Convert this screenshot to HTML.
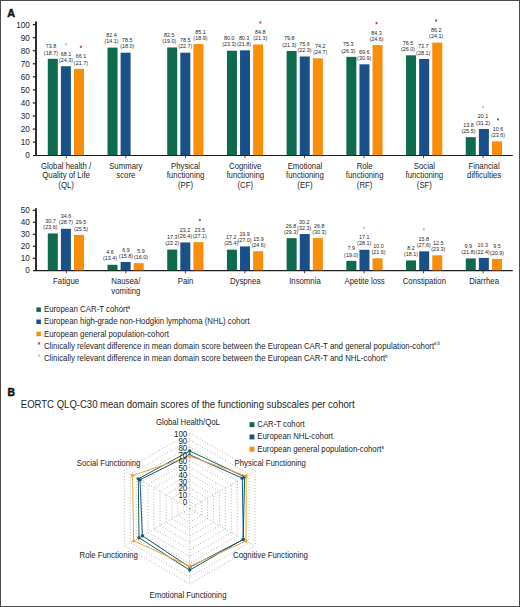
<!DOCTYPE html>
<html><head><meta charset="utf-8"><style>
html,body{margin:0;padding:0;background:#fff;}
body{width:520px;height:607px;overflow:hidden;}
svg{display:block;font-family:"Liberation Sans", sans-serif;}

</style></head><body>
<svg width="520" height="607" viewBox="0 0 520 607">
<rect x="0" y="0" width="520" height="607" fill="#fff"/>
<text x="7.20" y="17.00" font-size="10.8" text-anchor="start" fill="#111" font-weight="bold" stroke="#111" stroke-width="0.45">A</text>
<line x1="36.00" y1="21.50" x2="36.00" y2="155.70" stroke="#2e2e2e" stroke-width="2.0" />
<line x1="33.00" y1="155.50" x2="512.80" y2="155.50" stroke="#1c1c1c" stroke-width="1.05" />
<text x="29.90" y="158.15" font-size="8.2" text-anchor="end" fill="#1e1e1e" font-weight="normal" >0</text>
<line x1="32.80" y1="142.14" x2="36.00" y2="142.14" stroke="#222" stroke-width="1.2" />
<text x="29.90" y="145.09" font-size="8.2" text-anchor="end" fill="#1e1e1e" font-weight="normal" >10</text>
<line x1="32.80" y1="129.08" x2="36.00" y2="129.08" stroke="#222" stroke-width="1.2" />
<text x="29.90" y="132.03" font-size="8.2" text-anchor="end" fill="#1e1e1e" font-weight="normal" >20</text>
<line x1="32.80" y1="116.02" x2="36.00" y2="116.02" stroke="#222" stroke-width="1.2" />
<text x="29.90" y="118.97" font-size="8.2" text-anchor="end" fill="#1e1e1e" font-weight="normal" >30</text>
<line x1="32.80" y1="102.96" x2="36.00" y2="102.96" stroke="#222" stroke-width="1.2" />
<text x="29.90" y="105.91" font-size="8.2" text-anchor="end" fill="#1e1e1e" font-weight="normal" >40</text>
<line x1="32.80" y1="89.90" x2="36.00" y2="89.90" stroke="#222" stroke-width="1.2" />
<text x="29.90" y="92.85" font-size="8.2" text-anchor="end" fill="#1e1e1e" font-weight="normal" >50</text>
<line x1="32.80" y1="76.84" x2="36.00" y2="76.84" stroke="#222" stroke-width="1.2" />
<text x="29.90" y="79.79" font-size="8.2" text-anchor="end" fill="#1e1e1e" font-weight="normal" >60</text>
<line x1="32.80" y1="63.78" x2="36.00" y2="63.78" stroke="#222" stroke-width="1.2" />
<text x="29.90" y="66.73" font-size="8.2" text-anchor="end" fill="#1e1e1e" font-weight="normal" >70</text>
<line x1="32.80" y1="50.72" x2="36.00" y2="50.72" stroke="#222" stroke-width="1.2" />
<text x="29.90" y="53.67" font-size="8.2" text-anchor="end" fill="#1e1e1e" font-weight="normal" >80</text>
<line x1="32.80" y1="37.66" x2="36.00" y2="37.66" stroke="#222" stroke-width="1.2" />
<text x="29.90" y="40.61" font-size="8.2" text-anchor="end" fill="#1e1e1e" font-weight="normal" >90</text>
<line x1="32.80" y1="24.60" x2="36.00" y2="24.60" stroke="#222" stroke-width="1.2" />
<text x="29.90" y="27.55" font-size="8.2" text-anchor="end" fill="#1e1e1e" font-weight="normal" >100</text>
<line x1="66.30" y1="155.70" x2="66.30" y2="158.20" stroke="#333" stroke-width="0.9" />
<line x1="125.84" y1="155.70" x2="125.84" y2="158.20" stroke="#333" stroke-width="0.9" />
<line x1="185.38" y1="155.70" x2="185.38" y2="158.20" stroke="#333" stroke-width="0.9" />
<line x1="244.92" y1="155.70" x2="244.92" y2="158.20" stroke="#333" stroke-width="0.9" />
<line x1="304.46" y1="155.70" x2="304.46" y2="158.20" stroke="#333" stroke-width="0.9" />
<line x1="364.00" y1="155.70" x2="364.00" y2="158.20" stroke="#333" stroke-width="0.9" />
<line x1="423.54" y1="155.70" x2="423.54" y2="158.20" stroke="#333" stroke-width="0.9" />
<line x1="483.08" y1="155.70" x2="483.08" y2="158.20" stroke="#333" stroke-width="0.9" />
<rect x="47.80" y="58.82" width="10.00" height="96.38" fill="#0d6a4e"/>
<text x="50.90" y="48.32" font-size="5.4" text-anchor="middle" fill="#262626" font-weight="normal" >73.8</text>
<text x="50.90" y="54.52" font-size="5.4" text-anchor="middle" fill="#262626" font-weight="normal" >(18.7)</text>
<rect x="60.90" y="66.26" width="10.00" height="88.94" fill="#1a5088"/>
<text x="66.10" y="55.76" font-size="5.4" text-anchor="middle" fill="#262626" font-weight="normal" >68.1</text>
<text x="66.10" y="61.96" font-size="5.4" text-anchor="middle" fill="#262626" font-weight="normal" >(24.3)</text>
<path d="M66.10,43.06 L66.10,45.46 M65.06,43.66 L67.14,44.86 M67.14,43.66 L65.06,44.86 " stroke="#c2c2c2" stroke-width="0.9" fill="none"/>
<rect x="74.00" y="68.87" width="10.00" height="86.33" fill="#fa8e08"/>
<text x="80.90" y="58.37" font-size="5.4" text-anchor="middle" fill="#262626" font-weight="normal" >66.1</text>
<text x="80.90" y="64.57" font-size="5.4" text-anchor="middle" fill="#262626" font-weight="normal" >(21.7)</text>
<path d="M80.90,45.67 L80.90,48.07 M79.86,46.27 L81.94,47.47 M81.94,46.27 L79.86,47.47 " stroke="#b8445f" stroke-width="0.9" fill="none"/>
<rect x="107.51" y="47.59" width="10.00" height="107.61" fill="#0d6a4e"/>
<text x="111.51" y="37.09" font-size="5.4" text-anchor="middle" fill="#262626" font-weight="normal" >82.4</text>
<text x="111.51" y="43.29" font-size="5.4" text-anchor="middle" fill="#262626" font-weight="normal" >(14.1)</text>
<rect x="120.61" y="52.68" width="10.00" height="102.52" fill="#1a5088"/>
<text x="127.31" y="42.18" font-size="5.4" text-anchor="middle" fill="#262626" font-weight="normal" >78.5</text>
<text x="127.31" y="48.38" font-size="5.4" text-anchor="middle" fill="#262626" font-weight="normal" >(18.0)</text>
<rect x="167.22" y="47.45" width="10.00" height="107.75" fill="#0d6a4e"/>
<text x="169.22" y="36.95" font-size="5.4" text-anchor="middle" fill="#262626" font-weight="normal" >82.5</text>
<text x="169.22" y="43.15" font-size="5.4" text-anchor="middle" fill="#262626" font-weight="normal" >(19.0)</text>
<rect x="180.32" y="52.68" width="10.00" height="102.52" fill="#1a5088"/>
<text x="185.32" y="42.18" font-size="5.4" text-anchor="middle" fill="#262626" font-weight="normal" >78.5</text>
<text x="185.32" y="48.38" font-size="5.4" text-anchor="middle" fill="#262626" font-weight="normal" >(22.7)</text>
<rect x="193.42" y="44.06" width="10.00" height="111.14" fill="#fa8e08"/>
<text x="200.42" y="33.56" font-size="5.4" text-anchor="middle" fill="#262626" font-weight="normal" >85.1</text>
<text x="200.42" y="39.76" font-size="5.4" text-anchor="middle" fill="#262626" font-weight="normal" >(18.9)</text>
<rect x="226.93" y="50.72" width="10.00" height="104.48" fill="#0d6a4e"/>
<text x="229.23" y="40.22" font-size="5.4" text-anchor="middle" fill="#262626" font-weight="normal" >80.0</text>
<text x="229.23" y="46.42" font-size="5.4" text-anchor="middle" fill="#262626" font-weight="normal" >(23.3)</text>
<rect x="240.03" y="50.33" width="10.00" height="104.87" fill="#1a5088"/>
<text x="244.13" y="39.83" font-size="5.4" text-anchor="middle" fill="#262626" font-weight="normal" >80.3</text>
<text x="244.13" y="46.03" font-size="5.4" text-anchor="middle" fill="#262626" font-weight="normal" >(21.8)</text>
<rect x="253.13" y="44.45" width="10.00" height="110.75" fill="#fa8e08"/>
<text x="260.33" y="33.95" font-size="5.4" text-anchor="middle" fill="#262626" font-weight="normal" >84.8</text>
<text x="260.33" y="40.15" font-size="5.4" text-anchor="middle" fill="#262626" font-weight="normal" >(21.3)</text>
<path d="M260.33,21.25 L260.33,23.65 M259.29,21.85 L261.37,23.05 M261.37,21.85 L259.29,23.05 " stroke="#b8445f" stroke-width="0.9" fill="none"/>
<rect x="286.64" y="50.98" width="10.00" height="104.22" fill="#0d6a4e"/>
<text x="289.34" y="40.48" font-size="5.4" text-anchor="middle" fill="#262626" font-weight="normal" >79.8</text>
<text x="289.34" y="46.68" font-size="5.4" text-anchor="middle" fill="#262626" font-weight="normal" >(21.3)</text>
<rect x="299.74" y="56.47" width="10.00" height="98.73" fill="#1a5088"/>
<text x="304.54" y="45.97" font-size="5.4" text-anchor="middle" fill="#262626" font-weight="normal" >75.6</text>
<text x="304.54" y="52.17" font-size="5.4" text-anchor="middle" fill="#262626" font-weight="normal" >(22.3)</text>
<rect x="312.84" y="58.29" width="10.00" height="96.91" fill="#fa8e08"/>
<text x="320.24" y="47.79" font-size="5.4" text-anchor="middle" fill="#262626" font-weight="normal" >74.2</text>
<text x="320.24" y="53.99" font-size="5.4" text-anchor="middle" fill="#262626" font-weight="normal" >(24.7)</text>
<rect x="346.35" y="56.86" width="10.00" height="98.34" fill="#0d6a4e"/>
<text x="348.35" y="46.36" font-size="5.4" text-anchor="middle" fill="#262626" font-weight="normal" >75.3</text>
<text x="348.35" y="52.56" font-size="5.4" text-anchor="middle" fill="#262626" font-weight="normal" >(26.3)</text>
<rect x="359.45" y="64.30" width="10.00" height="90.90" fill="#1a5088"/>
<text x="364.15" y="53.80" font-size="5.4" text-anchor="middle" fill="#262626" font-weight="normal" >69.6</text>
<text x="364.15" y="60.00" font-size="5.4" text-anchor="middle" fill="#262626" font-weight="normal" >(30.9)</text>
<rect x="372.55" y="45.10" width="10.00" height="110.10" fill="#fa8e08"/>
<text x="376.55" y="34.60" font-size="5.4" text-anchor="middle" fill="#262626" font-weight="normal" >84.3</text>
<text x="376.55" y="40.80" font-size="5.4" text-anchor="middle" fill="#262626" font-weight="normal" >(24.6)</text>
<path d="M376.55,21.90 L376.55,24.30 M375.51,22.50 L377.59,23.70 M377.59,22.50 L375.51,23.70 " stroke="#b8445f" stroke-width="0.9" fill="none"/>
<rect x="406.06" y="55.29" width="10.00" height="99.91" fill="#0d6a4e"/>
<text x="407.96" y="44.79" font-size="5.4" text-anchor="middle" fill="#262626" font-weight="normal" >76.5</text>
<text x="407.96" y="50.99" font-size="5.4" text-anchor="middle" fill="#262626" font-weight="normal" >(26.0)</text>
<rect x="419.16" y="58.95" width="10.00" height="96.25" fill="#1a5088"/>
<text x="423.16" y="48.45" font-size="5.4" text-anchor="middle" fill="#262626" font-weight="normal" >73.7</text>
<text x="423.16" y="54.65" font-size="5.4" text-anchor="middle" fill="#262626" font-weight="normal" >(28.1)</text>
<rect x="432.26" y="42.62" width="10.00" height="112.58" fill="#fa8e08"/>
<text x="436.16" y="32.12" font-size="5.4" text-anchor="middle" fill="#262626" font-weight="normal" >86.2</text>
<text x="436.16" y="38.32" font-size="5.4" text-anchor="middle" fill="#262626" font-weight="normal" >(24.1)</text>
<path d="M436.16,19.42 L436.16,21.82 M435.12,20.02 L437.20,21.22 M437.20,20.02 L435.12,21.22 " stroke="#b8445f" stroke-width="0.9" fill="none"/>
<rect x="465.77" y="137.18" width="10.00" height="18.02" fill="#0d6a4e"/>
<text x="468.57" y="126.68" font-size="5.4" text-anchor="middle" fill="#262626" font-weight="normal" >13.8</text>
<text x="468.57" y="132.88" font-size="5.4" text-anchor="middle" fill="#262626" font-weight="normal" >(25.5)</text>
<rect x="478.87" y="128.95" width="10.00" height="26.25" fill="#1a5088"/>
<text x="483.07" y="118.45" font-size="5.4" text-anchor="middle" fill="#262626" font-weight="normal" >20.1</text>
<text x="483.07" y="124.65" font-size="5.4" text-anchor="middle" fill="#262626" font-weight="normal" >(31.2)</text>
<path d="M483.07,105.75 L483.07,108.15 M482.03,106.35 L484.11,107.55 M484.11,106.35 L482.03,107.55 " stroke="#c2c2c2" stroke-width="0.9" fill="none"/>
<rect x="491.97" y="141.36" width="10.00" height="13.84" fill="#fa8e08"/>
<text x="498.07" y="130.86" font-size="5.4" text-anchor="middle" fill="#262626" font-weight="normal" >10.6</text>
<text x="498.07" y="137.06" font-size="5.4" text-anchor="middle" fill="#262626" font-weight="normal" >(23.6)</text>
<path d="M498.07,118.16 L498.07,120.56 M497.03,118.76 L499.11,119.96 M499.11,118.76 L497.03,119.96 " stroke="#b8445f" stroke-width="0.9" fill="none"/>
<text transform="translate(66.10 168.60) scale(1 1.06)" font-size="7.8" text-anchor="middle" fill="#1e1e1e" font-weight="normal" >Global health /</text>
<text transform="translate(66.10 178.45) scale(1 1.06)" font-size="7.8" text-anchor="middle" fill="#1e1e1e" font-weight="normal" >Quality of Life</text>
<text transform="translate(66.10 188.30) scale(1 1.06)" font-size="7.8" text-anchor="middle" fill="#1e1e1e" font-weight="normal" >(QL)</text>
<text transform="translate(125.81 168.60) scale(1 1.06)" font-size="7.8" text-anchor="middle" fill="#1e1e1e" font-weight="normal" >Summary</text>
<text transform="translate(125.81 178.45) scale(1 1.06)" font-size="7.8" text-anchor="middle" fill="#1e1e1e" font-weight="normal" >score</text>
<text transform="translate(185.52 168.60) scale(1 1.06)" font-size="7.8" text-anchor="middle" fill="#1e1e1e" font-weight="normal" >Physical</text>
<text transform="translate(185.52 178.45) scale(1 1.06)" font-size="7.8" text-anchor="middle" fill="#1e1e1e" font-weight="normal" >functioning</text>
<text transform="translate(185.52 188.30) scale(1 1.06)" font-size="7.8" text-anchor="middle" fill="#1e1e1e" font-weight="normal" >(PF)</text>
<text transform="translate(245.23 168.60) scale(1 1.06)" font-size="7.8" text-anchor="middle" fill="#1e1e1e" font-weight="normal" >Cognitive</text>
<text transform="translate(245.23 178.45) scale(1 1.06)" font-size="7.8" text-anchor="middle" fill="#1e1e1e" font-weight="normal" >functioning</text>
<text transform="translate(245.23 188.30) scale(1 1.06)" font-size="7.8" text-anchor="middle" fill="#1e1e1e" font-weight="normal" >(CF)</text>
<text transform="translate(304.94 168.60) scale(1 1.06)" font-size="7.8" text-anchor="middle" fill="#1e1e1e" font-weight="normal" >Emotional</text>
<text transform="translate(304.94 178.45) scale(1 1.06)" font-size="7.8" text-anchor="middle" fill="#1e1e1e" font-weight="normal" >functioning</text>
<text transform="translate(304.94 188.30) scale(1 1.06)" font-size="7.8" text-anchor="middle" fill="#1e1e1e" font-weight="normal" >(EF)</text>
<text transform="translate(364.65 168.60) scale(1 1.06)" font-size="7.8" text-anchor="middle" fill="#1e1e1e" font-weight="normal" >Role</text>
<text transform="translate(364.65 178.45) scale(1 1.06)" font-size="7.8" text-anchor="middle" fill="#1e1e1e" font-weight="normal" >functioning</text>
<text transform="translate(364.65 188.30) scale(1 1.06)" font-size="7.8" text-anchor="middle" fill="#1e1e1e" font-weight="normal" >(RF)</text>
<text transform="translate(424.36 168.60) scale(1 1.06)" font-size="7.8" text-anchor="middle" fill="#1e1e1e" font-weight="normal" >Social</text>
<text transform="translate(424.36 178.45) scale(1 1.06)" font-size="7.8" text-anchor="middle" fill="#1e1e1e" font-weight="normal" >functioning</text>
<text transform="translate(424.36 188.30) scale(1 1.06)" font-size="7.8" text-anchor="middle" fill="#1e1e1e" font-weight="normal" >(SF)</text>
<text transform="translate(484.07 168.60) scale(1 1.06)" font-size="7.8" text-anchor="middle" fill="#1e1e1e" font-weight="normal" >Financial</text>
<text transform="translate(484.07 178.45) scale(1 1.06)" font-size="7.8" text-anchor="middle" fill="#1e1e1e" font-weight="normal" >difficulties</text>
<line x1="36.00" y1="208.20" x2="36.00" y2="270.80" stroke="#2e2e2e" stroke-width="2.0" />
<line x1="33.00" y1="270.60" x2="512.80" y2="270.60" stroke="#1c1c1c" stroke-width="1.05" />
<text x="29.90" y="273.25" font-size="8.2" text-anchor="end" fill="#1e1e1e" font-weight="normal" >0</text>
<line x1="32.80" y1="258.30" x2="36.00" y2="258.30" stroke="#222" stroke-width="1.2" />
<text x="29.90" y="261.25" font-size="8.2" text-anchor="end" fill="#1e1e1e" font-weight="normal" >10</text>
<line x1="32.80" y1="246.30" x2="36.00" y2="246.30" stroke="#222" stroke-width="1.2" />
<text x="29.90" y="249.25" font-size="8.2" text-anchor="end" fill="#1e1e1e" font-weight="normal" >20</text>
<line x1="32.80" y1="234.30" x2="36.00" y2="234.30" stroke="#222" stroke-width="1.2" />
<text x="29.90" y="237.25" font-size="8.2" text-anchor="end" fill="#1e1e1e" font-weight="normal" >30</text>
<line x1="32.80" y1="222.30" x2="36.00" y2="222.30" stroke="#222" stroke-width="1.2" />
<text x="29.90" y="225.25" font-size="8.2" text-anchor="end" fill="#1e1e1e" font-weight="normal" >40</text>
<line x1="32.80" y1="210.30" x2="36.00" y2="210.30" stroke="#222" stroke-width="1.2" />
<text x="29.90" y="213.25" font-size="8.2" text-anchor="end" fill="#1e1e1e" font-weight="normal" >50</text>
<line x1="66.30" y1="270.80" x2="66.30" y2="273.30" stroke="#333" stroke-width="0.9" />
<line x1="125.84" y1="270.80" x2="125.84" y2="273.30" stroke="#333" stroke-width="0.9" />
<line x1="185.38" y1="270.80" x2="185.38" y2="273.30" stroke="#333" stroke-width="0.9" />
<line x1="244.92" y1="270.80" x2="244.92" y2="273.30" stroke="#333" stroke-width="0.9" />
<line x1="304.46" y1="270.80" x2="304.46" y2="273.30" stroke="#333" stroke-width="0.9" />
<line x1="364.00" y1="270.80" x2="364.00" y2="273.30" stroke="#333" stroke-width="0.9" />
<line x1="423.54" y1="270.80" x2="423.54" y2="273.30" stroke="#333" stroke-width="0.9" />
<line x1="483.08" y1="270.80" x2="483.08" y2="273.30" stroke="#333" stroke-width="0.9" />
<rect x="47.80" y="233.46" width="10.00" height="36.84" fill="#0d6a4e"/>
<text x="50.40" y="222.96" font-size="5.4" text-anchor="middle" fill="#262626" font-weight="normal" >30.7</text>
<text x="50.40" y="229.16" font-size="5.4" text-anchor="middle" fill="#262626" font-weight="normal" >(23.6)</text>
<rect x="60.90" y="228.78" width="10.00" height="41.52" fill="#1a5088"/>
<text x="65.90" y="218.28" font-size="5.4" text-anchor="middle" fill="#262626" font-weight="normal" >34.6</text>
<text x="65.90" y="224.48" font-size="5.4" text-anchor="middle" fill="#262626" font-weight="normal" >(28.7)</text>
<rect x="74.00" y="234.90" width="10.00" height="35.40" fill="#fa8e08"/>
<text x="81.10" y="224.40" font-size="5.4" text-anchor="middle" fill="#262626" font-weight="normal" >29.5</text>
<text x="81.10" y="230.60" font-size="5.4" text-anchor="middle" fill="#262626" font-weight="normal" >(25.5)</text>
<rect x="107.51" y="264.78" width="10.00" height="5.52" fill="#0d6a4e"/>
<text x="110.11" y="254.28" font-size="5.4" text-anchor="middle" fill="#262626" font-weight="normal" >4.6</text>
<text x="110.11" y="260.48" font-size="5.4" text-anchor="middle" fill="#262626" font-weight="normal" >(13.4)</text>
<rect x="120.61" y="262.02" width="10.00" height="8.28" fill="#1a5088"/>
<text x="125.91" y="251.52" font-size="5.4" text-anchor="middle" fill="#262626" font-weight="normal" >6.9</text>
<text x="125.91" y="257.72" font-size="5.4" text-anchor="middle" fill="#262626" font-weight="normal" >(15.8)</text>
<rect x="133.71" y="263.22" width="10.00" height="7.08" fill="#fa8e08"/>
<text x="141.11" y="252.72" font-size="5.4" text-anchor="middle" fill="#262626" font-weight="normal" >5.9</text>
<text x="141.11" y="258.92" font-size="5.4" text-anchor="middle" fill="#262626" font-weight="normal" >(16.0)</text>
<rect x="167.22" y="249.54" width="10.00" height="20.76" fill="#0d6a4e"/>
<text x="172.22" y="239.04" font-size="5.4" text-anchor="middle" fill="#262626" font-weight="normal" >17.3</text>
<text x="172.22" y="245.24" font-size="5.4" text-anchor="middle" fill="#262626" font-weight="normal" >(22.2)</text>
<rect x="180.32" y="242.46" width="10.00" height="27.84" fill="#1a5088"/>
<text x="184.92" y="231.96" font-size="5.4" text-anchor="middle" fill="#262626" font-weight="normal" >23.2</text>
<text x="184.92" y="238.16" font-size="5.4" text-anchor="middle" fill="#262626" font-weight="normal" >(26.4)</text>
<rect x="193.42" y="242.10" width="10.00" height="28.20" fill="#fa8e08"/>
<text x="199.82" y="231.60" font-size="5.4" text-anchor="middle" fill="#262626" font-weight="normal" >23.5</text>
<text x="199.82" y="237.80" font-size="5.4" text-anchor="middle" fill="#262626" font-weight="normal" >(27.1)</text>
<path d="M199.82,218.90 L199.82,221.30 M198.78,219.50 L200.86,220.70 M200.86,219.50 L198.78,220.70 " stroke="#b8445f" stroke-width="0.9" fill="none"/>
<rect x="226.93" y="249.66" width="10.00" height="20.64" fill="#0d6a4e"/>
<text x="231.33" y="239.16" font-size="5.4" text-anchor="middle" fill="#262626" font-weight="normal" >17.2</text>
<text x="231.33" y="245.36" font-size="5.4" text-anchor="middle" fill="#262626" font-weight="normal" >(25.4)</text>
<rect x="240.03" y="246.42" width="10.00" height="23.88" fill="#1a5088"/>
<text x="244.63" y="235.92" font-size="5.4" text-anchor="middle" fill="#262626" font-weight="normal" >19.9</text>
<text x="244.63" y="242.12" font-size="5.4" text-anchor="middle" fill="#262626" font-weight="normal" >(27.0)</text>
<rect x="253.13" y="251.22" width="10.00" height="19.08" fill="#fa8e08"/>
<text x="258.53" y="240.72" font-size="5.4" text-anchor="middle" fill="#262626" font-weight="normal" >15.9</text>
<text x="258.53" y="246.92" font-size="5.4" text-anchor="middle" fill="#262626" font-weight="normal" >(24.6)</text>
<rect x="286.64" y="238.14" width="10.00" height="32.16" fill="#0d6a4e"/>
<text x="291.04" y="227.64" font-size="5.4" text-anchor="middle" fill="#262626" font-weight="normal" >26.8</text>
<text x="291.04" y="233.84" font-size="5.4" text-anchor="middle" fill="#262626" font-weight="normal" >(29.3)</text>
<rect x="299.74" y="234.06" width="10.00" height="36.24" fill="#1a5088"/>
<text x="304.34" y="223.56" font-size="5.4" text-anchor="middle" fill="#262626" font-weight="normal" >30.2</text>
<text x="304.34" y="229.76" font-size="5.4" text-anchor="middle" fill="#262626" font-weight="normal" >(32.3)</text>
<rect x="312.84" y="238.14" width="10.00" height="32.16" fill="#fa8e08"/>
<text x="319.34" y="227.64" font-size="5.4" text-anchor="middle" fill="#262626" font-weight="normal" >26.8</text>
<text x="319.34" y="233.84" font-size="5.4" text-anchor="middle" fill="#262626" font-weight="normal" >(30.3)</text>
<rect x="346.35" y="260.82" width="10.00" height="9.48" fill="#0d6a4e"/>
<text x="351.15" y="250.32" font-size="5.4" text-anchor="middle" fill="#262626" font-weight="normal" >7.9</text>
<text x="351.15" y="256.52" font-size="5.4" text-anchor="middle" fill="#262626" font-weight="normal" >(19.0)</text>
<rect x="359.45" y="249.78" width="10.00" height="20.52" fill="#1a5088"/>
<text x="364.15" y="239.28" font-size="5.4" text-anchor="middle" fill="#262626" font-weight="normal" >17.1</text>
<text x="364.15" y="245.48" font-size="5.4" text-anchor="middle" fill="#262626" font-weight="normal" >(28.1)</text>
<path d="M364.15,226.58 L364.15,228.98 M363.11,227.18 L365.19,228.38 M365.19,227.18 L363.11,228.38 " stroke="#c2c2c2" stroke-width="0.9" fill="none"/>
<rect x="372.55" y="258.30" width="10.00" height="12.00" fill="#fa8e08"/>
<text x="378.45" y="247.80" font-size="5.4" text-anchor="middle" fill="#262626" font-weight="normal" >10.0</text>
<text x="378.45" y="254.00" font-size="5.4" text-anchor="middle" fill="#262626" font-weight="normal" >(21.6)</text>
<rect x="406.06" y="260.46" width="10.00" height="9.84" fill="#0d6a4e"/>
<text x="411.06" y="249.96" font-size="5.4" text-anchor="middle" fill="#262626" font-weight="normal" >8.2</text>
<text x="411.06" y="256.16" font-size="5.4" text-anchor="middle" fill="#262626" font-weight="normal" >(18.1)</text>
<rect x="419.16" y="251.34" width="10.00" height="18.96" fill="#1a5088"/>
<text x="423.71" y="240.84" font-size="5.4" text-anchor="middle" fill="#262626" font-weight="normal" >15.8</text>
<text x="423.71" y="247.04" font-size="5.4" text-anchor="middle" fill="#262626" font-weight="normal" >(27.6)</text>
<path d="M423.71,228.14 L423.71,230.54 M422.67,228.74 L424.75,229.94 M424.75,228.74 L422.67,229.94 " stroke="#c2c2c2" stroke-width="0.9" fill="none"/>
<rect x="432.26" y="255.30" width="10.00" height="15.00" fill="#fa8e08"/>
<text x="438.36" y="244.80" font-size="5.4" text-anchor="middle" fill="#262626" font-weight="normal" >12.5</text>
<text x="438.36" y="251.00" font-size="5.4" text-anchor="middle" fill="#262626" font-weight="normal" >(23.3)</text>
<rect x="465.77" y="258.42" width="10.00" height="11.88" fill="#0d6a4e"/>
<text x="468.37" y="247.92" font-size="5.4" text-anchor="middle" fill="#262626" font-weight="normal" >9.9</text>
<text x="468.37" y="254.12" font-size="5.4" text-anchor="middle" fill="#262626" font-weight="normal" >(21.8)</text>
<rect x="478.87" y="257.94" width="10.00" height="12.36" fill="#1a5088"/>
<text x="482.67" y="247.44" font-size="5.4" text-anchor="middle" fill="#262626" font-weight="normal" >10.3</text>
<text x="482.67" y="253.64" font-size="5.4" text-anchor="middle" fill="#262626" font-weight="normal" >(22.4)</text>
<rect x="491.97" y="258.90" width="10.00" height="11.40" fill="#fa8e08"/>
<text x="496.97" y="248.40" font-size="5.4" text-anchor="middle" fill="#262626" font-weight="normal" >9.5</text>
<text x="496.97" y="254.60" font-size="5.4" text-anchor="middle" fill="#262626" font-weight="normal" >(20.9)</text>
<text transform="translate(66.10 283.70) scale(1 1.06)" font-size="7.8" text-anchor="middle" fill="#1e1e1e" font-weight="normal" >Fatigue</text>
<text transform="translate(125.81 283.70) scale(1 1.06)" font-size="7.8" text-anchor="middle" fill="#1e1e1e" font-weight="normal" >Nausea/</text>
<text transform="translate(125.81 293.55) scale(1 1.06)" font-size="7.8" text-anchor="middle" fill="#1e1e1e" font-weight="normal" >vomiting</text>
<text transform="translate(185.52 283.70) scale(1 1.06)" font-size="7.8" text-anchor="middle" fill="#1e1e1e" font-weight="normal" >Pain</text>
<text transform="translate(245.23 283.70) scale(1 1.06)" font-size="7.8" text-anchor="middle" fill="#1e1e1e" font-weight="normal" >Dyspnea</text>
<text transform="translate(304.94 283.70) scale(1 1.06)" font-size="7.8" text-anchor="middle" fill="#1e1e1e" font-weight="normal" >Insomnia</text>
<text transform="translate(364.65 283.70) scale(1 1.06)" font-size="7.8" text-anchor="middle" fill="#1e1e1e" font-weight="normal" >Apetite loss</text>
<text transform="translate(424.36 283.70) scale(1 1.06)" font-size="7.8" text-anchor="middle" fill="#1e1e1e" font-weight="normal" >Constipation</text>
<text transform="translate(484.07 283.70) scale(1 1.06)" font-size="7.8" text-anchor="middle" fill="#1e1e1e" font-weight="normal" >Diarrhea</text>
<rect x="36.40" y="307.40" width="4.50" height="4.50" fill="#0d6a4e"/>
<text transform="translate(43.90 312.20) scale(1 1.06)" font-size="7.85" text-anchor="start" fill="#1e1e1e" font-weight="normal" >European CAR-T cohort<tspan font-size="4.2" dy="-3">a</tspan></text>
<rect x="36.40" y="319.55" width="4.50" height="4.50" fill="#1a5088"/>
<text transform="translate(43.90 324.35) scale(1 1.06)" font-size="7.85" text-anchor="start" fill="#1e1e1e" font-weight="normal" >European high-grade non-Hodgkin lymphoma (NHL) cohort</text>
<rect x="36.40" y="331.70" width="4.50" height="4.50" fill="#fa8e08"/>
<text transform="translate(43.90 336.50) scale(1 1.06)" font-size="7.85" text-anchor="start" fill="#1e1e1e" font-weight="normal" >European general population-cohort</text>
<path d="M39.10,342.00 L39.10,344.80 M37.89,342.70 L40.31,344.10 M40.31,342.70 L37.89,344.10 " stroke="#b8445f" stroke-width="0.9" fill="none"/>
<text transform="translate(43.90 348.65) scale(1 1.06)" font-size="7.85" text-anchor="start" fill="#1e1e1e" font-weight="normal" >Clinically relevant difference in mean domain score between the European CAR-T and general population-cohort<tspan font-size="4.2" dy="-3">a,b</tspan></text>
<path d="M39.10,354.20 L39.10,357.00 M37.89,354.90 L40.31,356.30 M40.31,354.90 L37.89,356.30 " stroke="#c2c2c2" stroke-width="0.9" fill="none"/>
<text transform="translate(43.90 360.80) scale(1 1.06)" font-size="7.85" text-anchor="start" fill="#1e1e1e" font-weight="normal" >Clinically relevant difference in mean domain score between the European CAR-T and NHL-cohort<tspan font-size="4.2" dy="-3">b</tspan></text>
<text x="7.60" y="395.80" font-size="10.3" text-anchor="start" fill="#111" font-weight="bold" stroke="#111" stroke-width="0.45">B</text>
<text transform="translate(20.80 407.70) scale(1 1.06)" font-size="9.55" text-anchor="start" fill="#1e1e1e" font-weight="normal" >EORTC QLQ-C30 mean domain scores of the functioning subscales per cohort</text>
<path d="M189.70,501.64 L195.64,505.07 L195.64,511.93 L189.70,515.36 L183.76,511.93 L183.76,505.07 Z" fill="none" stroke="#8f8f8f" stroke-width="0.8" stroke-dasharray="0.8 2.1"/>
<path d="M189.70,494.78 L201.58,501.64 L201.58,515.36 L189.70,522.22 L177.82,515.36 L177.82,501.64 Z" fill="none" stroke="#8f8f8f" stroke-width="0.8" stroke-dasharray="0.8 2.1"/>
<path d="M189.70,487.92 L207.52,498.21 L207.52,518.79 L189.70,529.08 L171.88,518.79 L171.88,498.21 Z" fill="none" stroke="#8f8f8f" stroke-width="0.8" stroke-dasharray="0.8 2.1"/>
<path d="M189.70,481.06 L213.46,494.78 L213.46,522.22 L189.70,535.94 L165.94,522.22 L165.94,494.78 Z" fill="none" stroke="#8f8f8f" stroke-width="0.8" stroke-dasharray="0.8 2.1"/>
<path d="M189.70,474.20 L219.40,491.35 L219.40,525.65 L189.70,542.80 L160.00,525.65 L160.00,491.35 Z" fill="none" stroke="#8f8f8f" stroke-width="0.8" stroke-dasharray="0.8 2.1"/>
<path d="M189.70,467.34 L225.35,487.92 L225.35,529.08 L189.70,549.66 L154.05,529.08 L154.05,487.92 Z" fill="none" stroke="#8f8f8f" stroke-width="0.8" stroke-dasharray="0.8 2.1"/>
<path d="M189.70,460.48 L231.29,484.49 L231.29,532.51 L189.70,556.52 L148.11,532.51 L148.11,484.49 Z" fill="none" stroke="#8f8f8f" stroke-width="0.8" stroke-dasharray="0.8 2.1"/>
<path d="M189.70,453.62 L237.23,481.06 L237.23,535.94 L189.70,563.38 L142.17,535.94 L142.17,481.06 Z" fill="none" stroke="#8f8f8f" stroke-width="0.8" stroke-dasharray="0.8 2.1"/>
<path d="M189.70,446.76 L243.17,477.63 L243.17,539.37 L189.70,570.24 L136.23,539.37 L136.23,477.63 Z" fill="none" stroke="#8f8f8f" stroke-width="0.8" stroke-dasharray="0.8 2.1"/>
<path d="M189.70,439.90 L249.11,474.20 L249.11,542.80 L189.70,577.10 L130.29,542.80 L130.29,474.20 Z" fill="none" stroke="#8f8f8f" stroke-width="0.8" stroke-dasharray="0.8 2.1"/>
<path d="M189.70,433.04 L255.05,470.77 L255.05,546.23 L189.70,583.96 L124.35,546.23 L124.35,470.77 Z" fill="none" stroke="#8f8f8f" stroke-width="0.8" stroke-dasharray="0.8 2.1"/>
<line x1="189.70" y1="508.50" x2="189.70" y2="433.04" stroke="#8f8f8f" stroke-width="0.8" stroke-dasharray="0.8 2.1"/>
<line x1="189.70" y1="508.50" x2="255.05" y2="470.77" stroke="#8f8f8f" stroke-width="0.8" stroke-dasharray="0.8 2.1"/>
<line x1="189.70" y1="508.50" x2="255.05" y2="546.23" stroke="#8f8f8f" stroke-width="0.8" stroke-dasharray="0.8 2.1"/>
<line x1="189.70" y1="508.50" x2="189.70" y2="583.96" stroke="#8f8f8f" stroke-width="0.8" stroke-dasharray="0.8 2.1"/>
<line x1="189.70" y1="508.50" x2="124.35" y2="546.23" stroke="#8f8f8f" stroke-width="0.8" stroke-dasharray="0.8 2.1"/>
<line x1="189.70" y1="508.50" x2="124.35" y2="470.77" stroke="#8f8f8f" stroke-width="0.8" stroke-dasharray="0.8 2.1"/>
<path d="M189.70,451.01 L244.65,476.77 L243.17,539.37 L189.70,570.10 L139.02,537.76 L138.31,478.83 Z" fill="none" stroke="#11684d" stroke-width="1.0" stroke-linejoin="miter"/>
<circle cx="189.70" cy="451.01" r="1.7" fill="#11684d"/>
<circle cx="244.65" cy="476.77" r="1.7" fill="#11684d"/>
<circle cx="243.17" cy="539.37" r="1.7" fill="#11684d"/>
<circle cx="189.70" cy="570.10" r="1.7" fill="#11684d"/>
<circle cx="139.02" cy="537.76" r="1.7" fill="#11684d"/>
<circle cx="138.31" cy="478.83" r="1.7" fill="#11684d"/>
<path d="M189.70,454.92 L242.28,478.14 L243.35,539.47 L189.70,567.22 L142.41,535.80 L139.97,479.79 Z" fill="none" stroke="#1f5288" stroke-width="1.0" stroke-linejoin="miter"/>
<circle cx="189.70" cy="454.92" r="1.7" fill="#1f5288"/>
<circle cx="242.28" cy="478.14" r="1.7" fill="#1f5288"/>
<circle cx="243.35" cy="539.47" r="1.7" fill="#1f5288"/>
<circle cx="189.70" cy="567.22" r="1.7" fill="#1f5288"/>
<circle cx="142.41" cy="535.80" r="1.7" fill="#1f5288"/>
<circle cx="139.97" cy="479.79" r="1.7" fill="#1f5288"/>
<path d="M189.70,456.30 L246.20,475.88 L246.02,541.02 L189.70,566.26 L133.68,540.84 L132.55,475.50 Z" fill="none" stroke="#f2a53f" stroke-width="1.0" stroke-linejoin="miter"/>
<circle cx="189.70" cy="456.30" r="1.7" fill="#f2a53f"/>
<circle cx="246.20" cy="475.88" r="1.7" fill="#f2a53f"/>
<circle cx="246.02" cy="541.02" r="1.7" fill="#f2a53f"/>
<circle cx="189.70" cy="566.26" r="1.7" fill="#f2a53f"/>
<circle cx="133.68" cy="540.84" r="1.7" fill="#f2a53f"/>
<circle cx="132.55" cy="475.50" r="1.7" fill="#f2a53f"/>
<text transform="translate(187.30 437.40) scale(1 1.06)" font-size="8" text-anchor="end" fill="#1e1e1e" font-weight="normal" >100</text>
<text transform="translate(187.30 444.13) scale(1 1.06)" font-size="8" text-anchor="end" fill="#1e1e1e" font-weight="normal" >90</text>
<text transform="translate(187.30 450.86) scale(1 1.06)" font-size="8" text-anchor="end" fill="#1e1e1e" font-weight="normal" >80</text>
<text transform="translate(187.30 457.59) scale(1 1.06)" font-size="8" text-anchor="end" fill="#1e1e1e" font-weight="normal" >70</text>
<text transform="translate(187.30 464.32) scale(1 1.06)" font-size="8" text-anchor="end" fill="#1e1e1e" font-weight="normal" >60</text>
<text transform="translate(187.30 471.05) scale(1 1.06)" font-size="8" text-anchor="end" fill="#1e1e1e" font-weight="normal" >50</text>
<text transform="translate(187.30 477.78) scale(1 1.06)" font-size="8" text-anchor="end" fill="#1e1e1e" font-weight="normal" >40</text>
<text transform="translate(187.30 484.51) scale(1 1.06)" font-size="8" text-anchor="end" fill="#1e1e1e" font-weight="normal" >30</text>
<text transform="translate(187.30 491.24) scale(1 1.06)" font-size="8" text-anchor="end" fill="#1e1e1e" font-weight="normal" >20</text>
<text transform="translate(187.30 497.97) scale(1 1.06)" font-size="8" text-anchor="end" fill="#1e1e1e" font-weight="normal" >10</text>
<text transform="translate(187.30 504.70) scale(1 1.06)" font-size="8" text-anchor="end" fill="#1e1e1e" font-weight="normal" >0</text>
<text transform="translate(187.90 424.80) scale(1 1.06)" font-size="7.8" text-anchor="middle" fill="#1e1e1e" font-weight="normal" >Global Health/QoL</text>
<text transform="translate(234.60 465.80) scale(1 1.06)" font-size="7.8" text-anchor="start" fill="#1e1e1e" font-weight="normal" >Physical Functioning</text>
<text transform="translate(140.40 465.60) scale(1 1.06)" font-size="7.8" text-anchor="end" fill="#1e1e1e" font-weight="normal" >Social Functioning</text>
<text transform="translate(137.90 557.90) scale(1 1.06)" font-size="7.8" text-anchor="end" fill="#1e1e1e" font-weight="normal" >Role Functioning</text>
<text transform="translate(233.10 558.10) scale(1 1.06)" font-size="7.8" text-anchor="start" fill="#1e1e1e" font-weight="normal" >Cognitive Functioning</text>
<text transform="translate(188.00 598.30) scale(1 1.06)" font-size="7.8" text-anchor="middle" fill="#1e1e1e" font-weight="normal" >Emotional Functioning</text>
<rect x="249.50" y="422.20" width="4.90" height="4.90" fill="#0d6a4e"/>
<text transform="translate(257.30 427.10) scale(1 1.06)" font-size="7.8" text-anchor="start" fill="#1e1e1e" font-weight="normal" >CAR-T cohort</text>
<rect x="249.50" y="434.50" width="4.90" height="4.90" fill="#1a5088"/>
<text transform="translate(257.30 439.40) scale(1 1.06)" font-size="7.8" text-anchor="start" fill="#1e1e1e" font-weight="normal" >European NHL-cohort</text>
<rect x="249.50" y="446.80" width="4.90" height="4.90" fill="#fa8e08"/>
<text transform="translate(257.30 451.70) scale(1 1.06)" font-size="7.8" text-anchor="start" fill="#1e1e1e" font-weight="normal" >European general population-cohort<tspan font-size="4.2" dy="-3">a</tspan></text>
<rect x="0.5" y="0.5" width="519" height="606" fill="none" stroke="#4a4a4a" stroke-width="1"/>
</svg>
</body></html>
